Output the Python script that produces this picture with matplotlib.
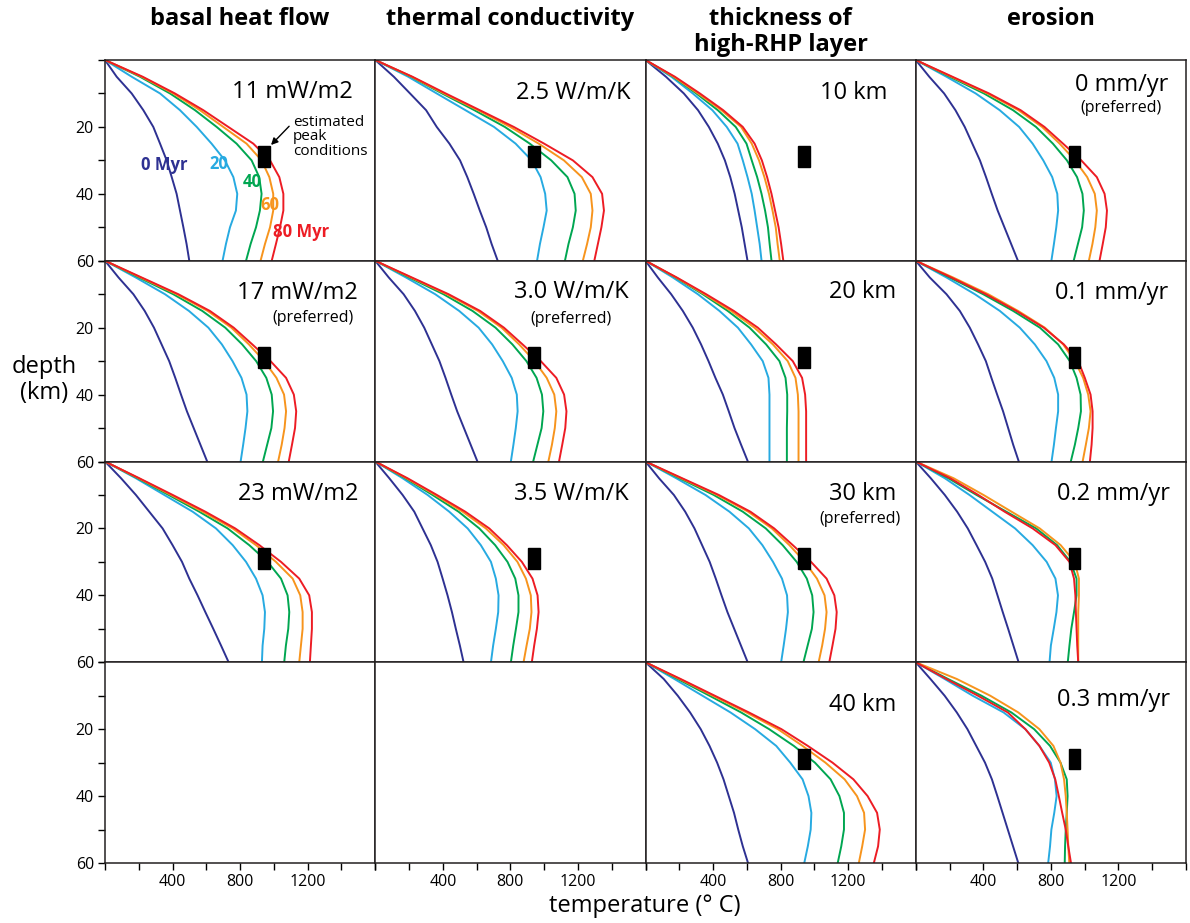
import numpy as np
import matplotlib.pyplot as plt
from matplotlib.patches import Rectangle

plt.rcParams['font.family'] = ['Open Sans', 'DejaVu Sans']

# depth (km) at which the geotherms were read
depth = [0, 5, 10, 15, 20, 25, 30, 35, 40, 45, 50, 55, 60]
ages = ['0', '20', '40', '60', '80']
colors = ['#2e3192', '#27aae1', '#00a651', '#f7941d', '#ed1c24']

# temperature (deg C) for the 0, 20, 40, 60, 80 Myr curves
pref = [
    [0, 80, 168, 235, 290, 335, 380, 416, 450, 485, 525, 565, 605],
    [0, 182, 355, 497, 612, 692, 755, 808, 838, 843, 832, 818, 803],
    [0, 201, 404, 576, 712, 812, 895, 955, 987, 995, 985, 960, 935],
    [0, 211, 424, 608, 748, 852, 943, 1015, 1060, 1072, 1063, 1046, 1025],
    [0, 217, 434, 621, 762, 872, 980, 1072, 1118, 1132, 1125, 1107, 1088],
]
hf11 = [
    [0, 69, 158, 227, 286, 326, 365, 395, 424, 444, 464, 483, 499],
    [0, 158, 326, 444, 543, 631, 710, 760, 783, 775, 740, 716, 696],
    [0, 207, 385, 533, 661, 779, 868, 913, 927, 917, 894, 862, 835],
    [0, 217, 404, 562, 700, 838, 927, 973, 996, 996, 977, 947, 921],
    [0, 223, 414, 582, 730, 878, 977, 1032, 1056, 1056, 1036, 1012, 987],
]
hf23 = [
    [0, 95, 183, 262, 341, 400, 456, 499, 548, 594, 641, 687, 732],
    [0, 183, 351, 519, 657, 756, 835, 894, 933, 947, 943, 933, 929],
    [0, 193, 377, 558, 726, 854, 963, 1042, 1081, 1091, 1085, 1071, 1061],
    [0, 199, 391, 578, 756, 894, 1012, 1111, 1156, 1170, 1170, 1160, 1150],
    [0, 203, 401, 594, 771, 914, 1042, 1150, 1209, 1225, 1225, 1219, 1213],
]
k25 = [
    [0, 110, 206, 301, 364, 439, 502, 545, 583, 619, 657, 689, 725],
    [0, 195, 364, 534, 703, 831, 926, 979, 1006, 1015, 996, 975, 958],
    [0, 212, 396, 587, 767, 915, 1042, 1138, 1180, 1187, 1170, 1144, 1123],
    [0, 216, 407, 608, 799, 968, 1117, 1223, 1276, 1286, 1276, 1254, 1229],
    [0, 220, 417, 619, 820, 1000, 1170, 1286, 1343, 1354, 1339, 1318, 1297],
]
k35 = [
    [0, 83, 162, 231, 280, 329, 369, 399, 428, 454, 477, 501, 523],
    [0, 162, 310, 438, 547, 625, 685, 714, 730, 728, 714, 698, 685],
    [0, 178, 339, 493, 616, 710, 783, 829, 848, 848, 833, 817, 803],
    [0, 185, 355, 517, 655, 760, 842, 892, 921, 925, 915, 896, 878],
    [0, 191, 365, 533, 675, 779, 868, 931, 961, 967, 957, 941, 927],
]
rhp10 = [
    [0, 121, 227, 311, 375, 428, 470, 502, 528, 549, 570, 587, 604],
    [0, 153, 280, 396, 481, 545, 576, 604, 629, 646, 661, 676, 687],
    [0, 163, 301, 428, 534, 598, 629, 661, 687, 708, 725, 735, 746],
    [0, 167, 311, 449, 566, 629, 672, 704, 731, 752, 771, 782, 795],
    [0, 174, 322, 460, 576, 646, 689, 720, 746, 767, 788, 803, 816],
]
rhp20 = [
    [0, 73, 152, 221, 280, 329, 373, 414, 458, 493, 527, 566, 606],
    [0, 162, 310, 438, 547, 625, 694, 728, 734, 734, 734, 734, 734],
    [0, 178, 339, 487, 616, 714, 793, 829, 839, 839, 837, 837, 837],
    [0, 182, 349, 507, 645, 754, 842, 888, 902, 906, 906, 906, 906],
    [0, 185, 359, 523, 665, 773, 872, 927, 945, 951, 951, 951, 951],
]
rhp40 = [
    [0, 108, 191, 264, 327, 379, 424, 462, 493, 524, 549, 576, 607],
    [0, 171, 337, 503, 649, 774, 857, 930, 965, 982, 978, 961, 940],
    [0, 191, 379, 566, 732, 878, 1003, 1096, 1148, 1175, 1175, 1159, 1138],
    [0, 202, 399, 597, 784, 930, 1065, 1179, 1252, 1294, 1300, 1283, 1263],
    [0, 208, 410, 612, 805, 961, 1107, 1231, 1315, 1371, 1387, 1377, 1352],
]
ero01 = [
    [0, 83, 182, 261, 320, 369, 415, 448, 482, 517, 547, 577, 610],
    [0, 182, 350, 498, 616, 705, 774, 820, 843, 843, 830, 818, 804],
    [0, 201, 399, 577, 735, 843, 912, 952, 976, 978, 962, 942, 918],
    [0, 221, 429, 606, 764, 873, 942, 991, 1021, 1035, 1025, 1007, 988],
    [0, 211, 415, 596, 758, 877, 962, 1001, 1035, 1047, 1047, 1041, 1031],
]
ero02 = [
    [0, 89, 172, 245, 308, 360, 411, 453, 484, 515, 547, 578, 609],
    [0, 172, 318, 453, 588, 692, 775, 827, 842, 833, 817, 800, 792],
    [0, 193, 360, 536, 713, 837, 916, 952, 952, 937, 921, 910, 900],
    [0, 224, 401, 567, 734, 858, 941, 966, 966, 962, 962, 962, 962],
    [0, 204, 370, 526, 692, 827, 910, 937, 945, 948, 952, 956, 962],
]
ero03 = [
    [0, 87, 171, 243, 306, 358, 410, 451, 483, 514, 545, 576, 607],
    [0, 171, 337, 520, 649, 732, 799, 824, 834, 820, 803, 795, 784],
    [0, 191, 389, 566, 701, 795, 857, 894, 899, 894, 888, 884, 882],
    [0, 243, 441, 607, 732, 815, 857, 878, 888, 894, 899, 903, 909],
    [0, 181, 368, 545, 649, 732, 790, 826, 847, 867, 888, 903, 919],
]

col_titles = ['basal heat flow', 'thermal conductivity', 'thickness of\nhigh-RHP layer', 'erosion']

# estimated peak conditions (T range, depth range)
peak_t = [905, 975]
peak_z = [25.8, 32.0]

# (row, col): data, label, label x, label y, preferred?, pref x, pref y
panels = {
    (0, 0): (hf11, '11 mW/m2', 0.915, 0.84, False, 0, 0),
    (1, 0): (pref, '17 mW/m2', 0.937, 0.84, True, 0.77, 0.715),
    (2, 0): (hf23, '23 mW/m2', 0.937, 0.84, False, 0, 0),
    (0, 1): (k25, '2.5 W/m/K', 0.944, 0.835, False, 0, 0),
    (1, 1): (pref, '3.0 W/m/K', 0.937, 0.845, True, 0.726, 0.712),
    (2, 1): (k35, '3.5 W/m/K', 0.937, 0.84, False, 0, 0),
    (0, 2): (rhp10, '10 km', 0.896, 0.835, False, 0, 0),
    (1, 2): (rhp20, '20 km', 0.926, 0.845, False, 0, 0),
    (2, 2): (pref, '30 km', 0.926, 0.84, True, 0.793, 0.712),
    (3, 2): (rhp40, '40 km', 0.926, 0.785, False, 0, 0),
    (0, 3): (pref, '0 mm/yr', 0.933, 0.875, True, 0.759, 0.76),
    (1, 3): (ero01, '0.1 mm/yr', 0.933, 0.84, False, 0, 0),
    (2, 3): (ero02, '0.2 mm/yr', 0.94, 0.84, False, 0, 0),
    (3, 3): (ero03, '0.3 mm/yr', 0.94, 0.81, False, 0, 0),
}

fig = plt.figure(figsize=(11.9, 9.23), dpi=100)
gs = fig.add_gridspec(4, 4, left=105 / 1190, right=1186 / 1190,
                      top=1 - 60 / 923, bottom=1 - 863 / 923,
                      wspace=0, hspace=0)

for r in range(4):
    for c in range(4):
        ax = fig.add_subplot(gs[r, c])
        ax.set_xlim(0, 1600)
        ax.set_ylim(60, 0)
        for s in ax.spines.values():
            s.set_linewidth(1.1)
            s.set_color('#231f20')
        ax.set_xticks(range(0, 1601, 200))
        ax.set_yticks(range(0, 61, 10))
        if r == 3:
            ax.set_xticklabels(['', '', '400', '', '800', '', '1200', '', ''])
            ax.tick_params(axis='x', direction='out', length=5, width=1, labelsize=11.5, pad=3)
        else:
            ax.set_xticklabels([])
            ax.tick_params(axis='x', length=0)
        if c == 0:
            ax.set_yticklabels(['', '', '20', '', '40', '', '60'])
            ax.tick_params(axis='y', direction='out', length=5, width=1, labelsize=11.5, pad=3)
        else:
            ax.set_yticklabels([])
            ax.tick_params(axis='y', length=0)

        if (r, c) not in panels:
            continue
        data, label, lx, ly, is_pref, px, py = panels[(r, c)]
        for temps, col in zip(data, colors):
            ax.plot(temps, depth, color=col, lw=1.4, solid_joinstyle='round')
        ax.add_patch(Rectangle((peak_t[0], peak_z[0]), peak_t[1] - peak_t[0],
                               peak_z[1] - peak_z[0], color='black', zorder=5))
        ax.text(lx, ly, label, transform=ax.transAxes, ha='right', va='center', fontsize=17)
        if is_pref:
            ax.text(px, py, '(preferred)', transform=ax.transAxes, ha='center',
                    va='center', fontsize=11.5)

        if (r, c) == (0, 0):
            ax.text(350, 31.4, '0 Myr', color=colors[0], fontsize=12, fontweight='bold',
                    ha='center', va='center')
            ax.text(672, 31, '20', color=colors[1], fontsize=12, fontweight='bold',
                    ha='center', va='center')
            ax.text(872, 36.6, '40', color=colors[2], fontsize=12, fontweight='bold',
                    ha='center', va='center')
            ax.text(977, 43.4, '60', color=colors[3], fontsize=12, fontweight='bold',
                    ha='center', va='center')
            ax.text(1160, 51.3, '80 Myr', color=colors[4], fontsize=12, fontweight='bold',
                    ha='center', va='center')
            ax.text(1113, 23, 'estimated\npeak\nconditions', fontsize=11, ha='left',
                    va='center', linespacing=0.95)
            ax.annotate('', xy=(983, 25.4), xytext=(1090, 19.8),
                        arrowprops=dict(arrowstyle='-|>', color='black', lw=1,
                                        mutation_scale=10, shrinkA=0, shrinkB=0))

col_centers = [(105 + 270.25 * (i + 0.5)) / 1190 for i in range(4)]
for i, t in enumerate(col_titles):
    lines = t.split('\n')
    for j, line in enumerate(lines):
        fig.text(col_centers[i], 1 - (19 + 26 * j) / 923, line, ha='center', va='center',
                 fontsize=17, fontweight='bold')

fig.text(44 / 1190, 1 - 380 / 923, 'depth\n(km)', ha='center', va='center', fontsize=17,
         linespacing=1.1)
fig.text(645 / 1190, 1 - 906 / 923, 'temperature (° C)', ha='center', va='center',
         fontsize=17)

plt.savefig('out.png', dpi=100)
